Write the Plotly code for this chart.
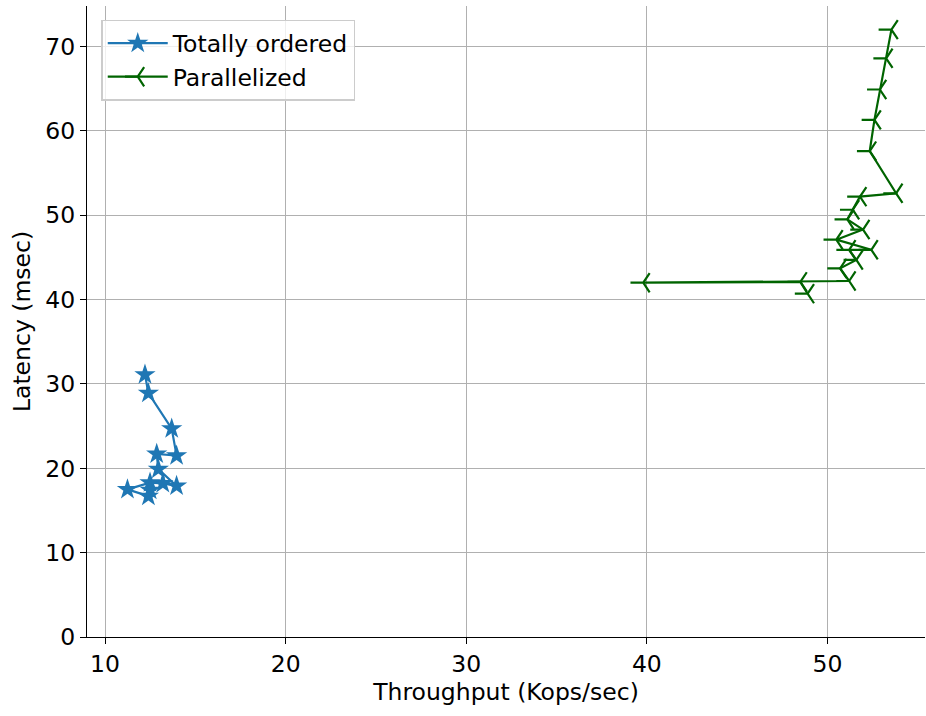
import plotly.graph_objects as go

# Totally ordered series (throughput Kops/sec, latency msec)
tot_x = [12.21, 12.40, 13.69, 13.96, 12.86, 12.95, 13.96, 13.20, 12.49, 11.24, 12.40, 12.50]
tot_y = [31.1, 28.9, 24.7, 21.5, 21.7, 19.9, 17.9, 18.2, 18.3, 17.5, 16.7, 17.4]

# Parallelized series
par_x = [53.54, 53.25, 52.90, 52.60, 52.34, 53.80, 51.80, 51.40, 51.10, 51.97, 50.49,
         52.43, 51.20, 51.60, 50.70, 51.20, 39.80, 48.50, 48.90]
par_y = [72.0, 68.6, 64.9, 61.3, 57.6, 52.6, 52.2, 50.65, 49.5, 48.3, 47.1,
         45.9, 45.9, 44.7, 43.7, 42.2, 42.0, 42.1, 40.7]

x_ticks = [10, 20, 30, 40, 50]
y_ticks = [0, 10, 20, 30, 40, 50, 60, 70]

FONT = "DejaVu Sans"
FS = 23.5

fig = go.Figure()
fig.add_trace(go.Scatter(
    x=tot_x, y=tot_y, mode="lines+markers", name="Totally ordered",
    line=dict(color="#1f77b4", width=2.2),
    marker=dict(symbol="star", size=16, color="#1f77b4", line=dict(width=0)),
))
fig.add_trace(go.Scatter(
    x=par_x, y=par_y, mode="lines+markers", name="Parallelized",
    line=dict(color="#006400", width=2.2),
    marker=dict(symbol="y-left", size=16, color="#006400",
                line=dict(width=2.2, color="#006400")),
))

axis_common = dict(
    showgrid=True, gridcolor="#b0b0b0", gridwidth=1.3,
    showline=True, linecolor="black", linewidth=1.3, mirror=False,
    ticks="outside", ticklen=6, tickcolor="black", tickwidth=1.3,
    zeroline=False,
    tickfont=dict(family=FONT, size=FS, color="black"),
)

fig.update_layout(
    width=926, height=716,
    margin=dict(l=87, r=1, t=6, b=79),
    paper_bgcolor="white", plot_bgcolor="white",
    font=dict(family=FONT, size=FS, color="black"),
    xaxis=dict(range=[9.0, 55.4], tickvals=x_ticks,
               title=dict(text="Throughput (Kops/sec)", font=dict(family=FONT, size=FS), standoff=4),
               **axis_common),
    yaxis=dict(range=[0, 74.8], tickvals=y_ticks,
               title=dict(text="Latency (msec)", font=dict(family=FONT, size=FS), standoff=8),
               **axis_common),
    legend=dict(x=0.017, y=0.978, xanchor="left", yanchor="top",
                bgcolor="rgba(255,255,255,0.8)", bordercolor="#cccccc", borderwidth=1.5,
                font=dict(family=FONT, size=FS), itemwidth=60, tracegroupgap=0),
    showlegend=True,
)

fig.write_html("out.html")
